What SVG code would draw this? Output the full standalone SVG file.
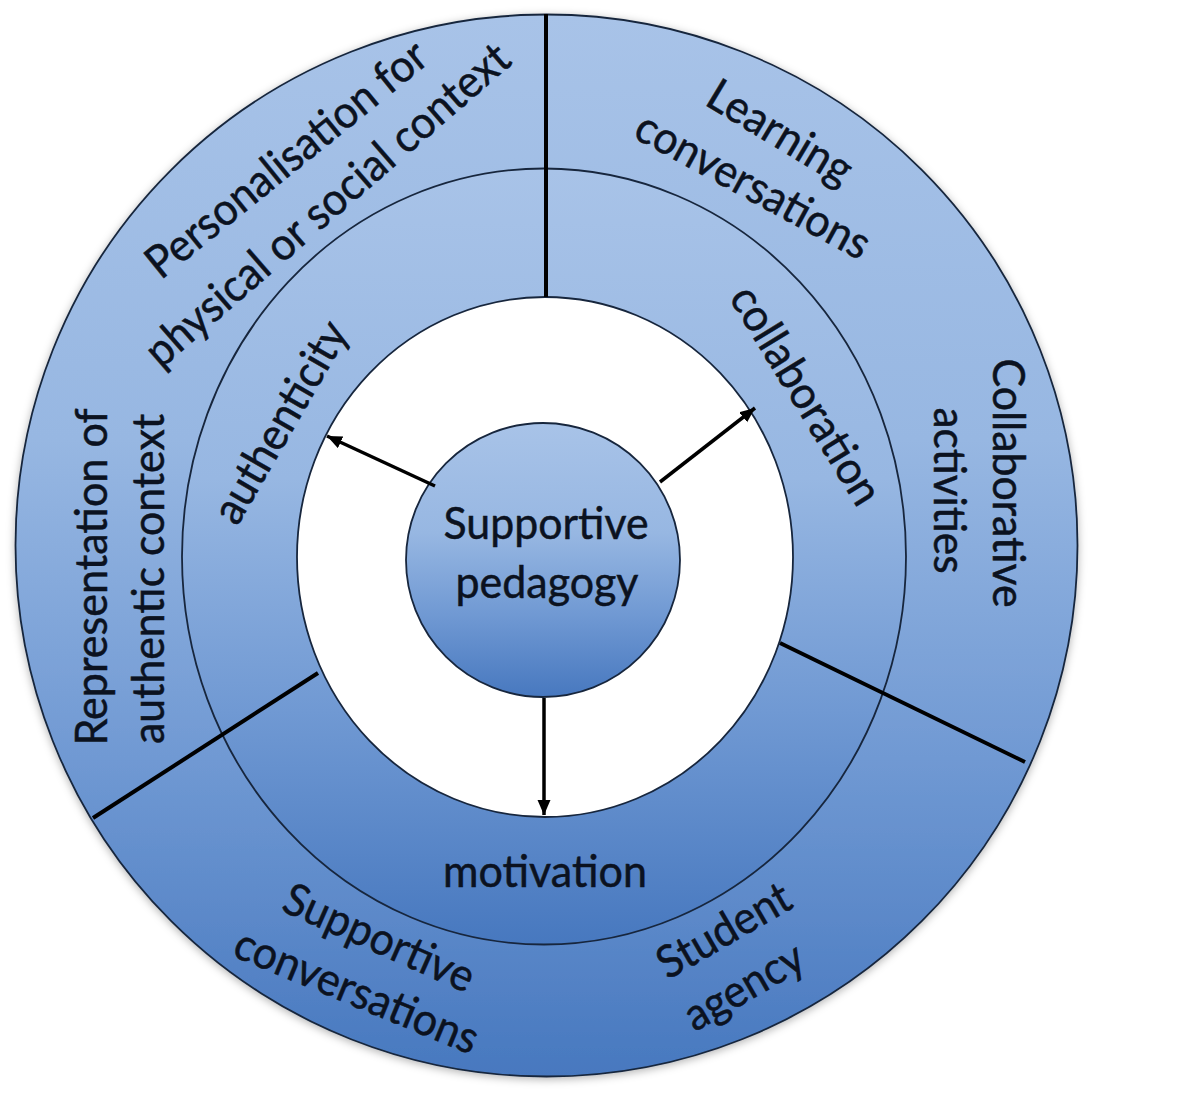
<svg xmlns="http://www.w3.org/2000/svg" width="1200" height="1108" viewBox="0 0 1200 1108">
  <defs>
    <linearGradient id="blueGrad" x1="0" y1="0" x2="0" y2="1">
      <stop offset="0" stop-color="#a8c3e8"/>
      <stop offset="0.4" stop-color="#97b7e2"/>
      <stop offset="0.7" stop-color="#7099d3"/>
      <stop offset="1" stop-color="#4778bf"/>
    </linearGradient>
    <filter id="softShadow" x="-10%" y="-10%" width="120%" height="120%">
      <feDropShadow dx="0" dy="2" stdDeviation="4" flood-color="#000" flood-opacity="0.3"/>
    </filter>
    <marker id="arrowHead" markerUnits="userSpaceOnUse" markerWidth="18" markerHeight="16" refX="15" refY="6.5" orient="auto">
      <path d="M0,0 L15,6.5 L0,13 Z" fill="#000"/>
    </marker>
    <style>
      .ring { fill: url(#blueGrad); stroke: #17263d; stroke-width: 1.8; }
      .hole { fill: #ffffff; stroke: #17263d; stroke-width: 1.8; }
      .divider { stroke: #000; stroke-width: 4; stroke-linecap: butt; }
      .arrow { stroke: #000; stroke-width: 3.5; fill: none; marker-end: url(#arrowHead); }
      .lbl { font-family: Lato, "Open Sans", "Liberation Sans", sans-serif; font-size: 45px; fill: #0b1220; stroke: #0b1220; stroke-width: 0.5; text-anchor: middle; }
    </style>
  </defs>

  <rect x="0" y="0" width="1200" height="1108" fill="#ffffff"/>

  <g id="outer-ring">
    <ellipse class="ring" cx="546.5" cy="545.5" rx="531" ry="531" filter="url(#softShadow)"/>
  </g>
  <g id="middle-ring">
    <ellipse class="ring" cx="544" cy="556.5" rx="362" ry="388"/>
  </g>
  <g id="inner-space">
    <ellipse class="hole" cx="545" cy="557" rx="248" ry="260"/>
  </g>

  <g id="dividers">
    <line class="divider" x1="546" y1="14" x2="546" y2="297"/>
    <line class="divider" x1="780" y1="643" x2="1025" y2="762"/>
    <line class="divider" x1="318" y1="673" x2="93" y2="818"/>
  </g>

  <g id="node-supportive-pedagogy">
    <circle class="ring" cx="543" cy="560" r="137"/>
    <text class="lbl" x="546" y="539" textLength="205" lengthAdjust="spacingAndGlyphs">Supportive</text>
    <text class="lbl" x="547" y="598" textLength="183" lengthAdjust="spacingAndGlyphs">pedagogy</text>
  </g>

  <g id="connectors">
    <line class="arrow" x1="435" y1="486" x2="327" y2="436"/>
    <line class="arrow" x1="660" y1="482" x2="755" y2="408"/>
    <line class="arrow" x1="544" y1="698" x2="544" y2="815"/>
  </g>

  <g id="node-authenticity">
    <g transform="translate(284,424) rotate(-60)">
      <text class="lbl" x="0" y="11" textLength="225" lengthAdjust="spacingAndGlyphs">authenticity</text>
    </g>
  </g>
  <g id="node-collaboration">
    <g transform="translate(802.5,397.5) rotate(58.5)">
      <text class="lbl" x="0" y="11" textLength="248" lengthAdjust="spacingAndGlyphs">collaboration</text>
    </g>
  </g>
  <g id="node-motivation">
    <text class="lbl" x="545" y="887" textLength="204" lengthAdjust="spacingAndGlyphs">motivation</text>
  </g>

  <g id="node-personalisation">
    <g transform="translate(289,162.5) rotate(-39)">
      <text class="lbl" x="0" y="11" textLength="348" lengthAdjust="spacingAndGlyphs">Personalisation for</text>
    </g>
    <g transform="translate(330,208) rotate(-41)">
      <text class="lbl" x="0" y="11" textLength="467" lengthAdjust="spacingAndGlyphs">physical or social context</text>
    </g>
  </g>

  <g id="node-learning-conversations">
    <g transform="translate(778,136) rotate(31)">
      <text class="lbl" x="0" y="11" textLength="161" lengthAdjust="spacingAndGlyphs">Learning</text>
    </g>
    <g transform="translate(751,189) rotate(28.5)">
      <text class="lbl" x="0" y="11" textLength="260" lengthAdjust="spacingAndGlyphs">conversations</text>
    </g>
  </g>

  <g id="node-collaborative-activities">
    <g transform="translate(1004,483) rotate(90)">
      <text class="lbl" x="0" y="11" textLength="249" lengthAdjust="spacingAndGlyphs">Collaborative</text>
    </g>
    <g transform="translate(945,490.5) rotate(90)">
      <text class="lbl" x="0" y="11" textLength="166" lengthAdjust="spacingAndGlyphs">activities</text>
    </g>
  </g>

  <g id="node-representation">
    <g transform="translate(96,577) rotate(-90)">
      <text class="lbl" x="0" y="11" textLength="337" lengthAdjust="spacingAndGlyphs">Representation of</text>
    </g>
    <g transform="translate(153,579) rotate(-90)">
      <text class="lbl" x="0" y="11" textLength="330" lengthAdjust="spacingAndGlyphs">authentic context</text>
    </g>
  </g>

  <g id="node-supportive-conversations">
    <g transform="translate(377.5,941.7) rotate(24)">
      <text class="lbl" x="0" y="11" textLength="204" lengthAdjust="spacingAndGlyphs">Supportive</text>
    </g>
    <g transform="translate(355,995) rotate(22.5)">
      <text class="lbl" x="0" y="11" textLength="260" lengthAdjust="spacingAndGlyphs">conversations</text>
    </g>
  </g>

  <g id="node-student-agency">
    <g transform="translate(726,934) rotate(-30)">
      <text class="lbl" x="0" y="11" textLength="147" lengthAdjust="spacingAndGlyphs">Student</text>
    </g>
    <g transform="translate(746,990) rotate(-30)">
      <text class="lbl" x="0" y="11" textLength="131" lengthAdjust="spacingAndGlyphs">agency</text>
    </g>
  </g>
</svg>
